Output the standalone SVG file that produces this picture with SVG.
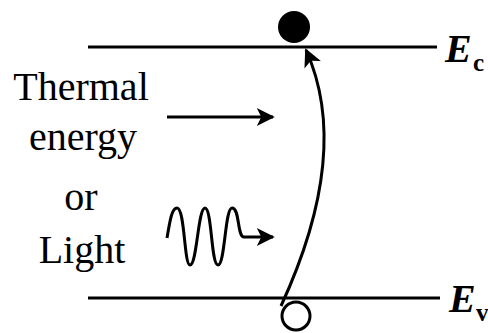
<svg xmlns="http://www.w3.org/2000/svg" width="488" height="333" viewBox="0 0 488 333">
<style>
.ln{stroke:#000;stroke-width:3;fill:none}
</style>
<defs>
<marker id="ah2" viewBox="0 0 10 10" refX="9" refY="5" markerWidth="22" markerHeight="18" markerUnits="userSpaceOnUse" orient="auto">
<path d="M0,0 L10,5 L0,10 L2.5,5 Z" fill="#000"/>
</marker>
</defs>
<g id="Ec-level">
<line class="ln" x1="88" y1="47" x2="437" y2="47"/>
<text x="445" y="62" font-family="Liberation Serif, DejaVu Serif, serif" font-size="40" font-style="italic" font-weight="bold">E</text>
<text x="473" y="71" font-family="Liberation Serif, DejaVu Serif, serif" font-size="25" font-weight="bold">c</text>
</g>
<g id="Ev-level">
<line class="ln" x1="88" y1="298" x2="440" y2="298"/>
<text x="449" y="312" font-family="Liberation Serif, DejaVu Serif, serif" font-size="40" font-style="italic" font-weight="bold">E</text>
<text x="476" y="321" font-family="Liberation Serif, DejaVu Serif, serif" font-size="25" font-weight="bold">v</text>
</g>
<g id="electron"><circle cx="294" cy="27" r="16" fill="#000"/></g>
<g id="hole"><circle cx="296" cy="316" r="14" fill="#fff" stroke="#000" stroke-width="3"/></g>
<g id="label" font-family="Liberation Serif, DejaVu Serif, serif" font-size="40" text-anchor="middle">
<text x="81" y="100">Thermal</text>
<text x="83" y="150">energy</text>
<text x="81" y="210">or</text>
<text x="82" y="263">Light</text>
</g>
<g id="connectors">
<path class="ln" d="M281,306 Q352,152 306,50" marker-end="url(#ah2)"/>
<line class="ln" x1="167" y1="117" x2="273" y2="117" marker-end="url(#ah2)"/>
<path class="ln" d="M167,238 C170,220 172,208 177,208 C185,208 184,265 190,265 C197,265 198,208 205,208 C212,208 211,265 218,265 C225,265 225,208 232,208 C240,208 237,237 244,237 L273,237" marker-end="url(#ah2)"/>
</g>
</svg>
